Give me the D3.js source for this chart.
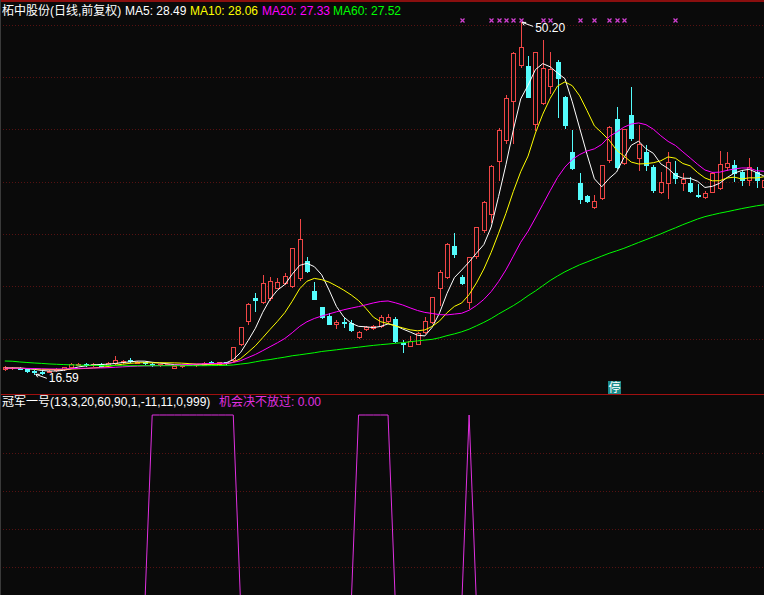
<!DOCTYPE html>
<html><head><meta charset="utf-8">
<script src="https://cdn.jsdelivr.net/npm/d3@7"></script>
<style>html,body{margin:0;padding:0;background:#0a0a0a;overflow:hidden}</style>
</head><body>
<svg id="c" width="764" height="595"></svg>
<script>
// ---------------- data ----------------
const open  = [17.10,17.20,17.20,17.05,16.95,16.85,16.85,17.00,17.05,17.30,17.50,17.55,17.45,17.55,17.45,17.65,17.75,17.98,17.70,17.75,
               17.60,17.45,17.50,17.20,17.35,17.50,17.45,17.50,17.80,17.60,17.75,17.95,19.50,21.71,23.91,23.52,23.91,24.86,25.34,25.02,
               25.76,27.41,24.58,22.99,22.16,21.39,21.61,21.46,20.18,20.92,20.98,21.20,21.71,21.87,19.61,19.32,19.48,20.66,21.61,24.80,
               25.85,28.84,25.91,23.52,27.89,30.37,31.90,36.99,38.97,42.72,46.13,46.04,40.50,42.53,44.13,46.45,43.05,37.85,34.89,33.62,
               32.54,33.40,37.06,40.95,36.80,41.36,37.22,37.85,36.42,34.03,34.89,35.85,34.83,34.89,33.72,33.50,34.03,34.36,36.36,36.58,
               35.94,35.15,35.94,34.45];
const high  = [17.40,17.30,17.25,17.10,17.00,16.95,17.00,17.15,17.30,17.65,17.70,17.65,17.70,17.65,17.75,18.30,18.00,18.10,17.85,17.80,
               17.65,17.60,17.60,17.40,17.50,17.55,17.60,17.75,17.85,17.80,17.80,19.20,21.10,23.40,24.33,26.07,25.91,25.76,26.29,28.62,
               31.42,27.82,25.43,22.99,22.42,21.78,21.94,21.78,20.70,21.20,21.30,22.25,22.32,22.03,19.87,20.25,20.66,22.09,24.00,26.55,
               29.10,30.06,26.07,27.77,30.70,33.15,36.55,40.09,43.27,47.35,50.20,46.99,47.40,48.52,47.40,46.61,43.20,39.92,35.85,33.72,
               33.72,36.60,40.30,42.14,40.00,44.06,40.40,38.49,36.58,35.94,37.85,36.99,35.79,35.47,34.77,34.10,35.90,37.95,37.85,37.06,
               36.10,37.22,36.42,35.30];
const low   = [17.00,17.10,17.05,16.80,16.59,16.65,16.80,16.95,17.00,17.25,17.45,17.40,17.40,17.35,17.40,17.60,17.70,17.75,17.65,17.55,
               17.40,17.40,17.45,17.15,17.30,17.45,17.40,17.45,17.65,17.55,17.60,17.90,19.40,21.39,22.67,23.37,23.70,24.80,25.20,24.90,
               25.60,26.39,23.78,21.94,21.37,20.98,21.14,20.75,20.10,20.85,20.90,21.14,21.61,19.70,18.75,19.30,19.45,20.50,21.46,23.21,
               25.80,27.82,25.20,22.89,27.67,30.20,31.17,35.15,38.65,38.65,45.94,43.05,39.92,42.45,43.43,41.19,40.10,36.17,32.98,33.00,
               32.50,33.30,36.90,36.27,36.70,38.97,36.10,36.10,34.03,33.94,33.40,34.90,34.19,34.00,33.55,33.45,34.00,34.30,36.10,35.03,
               34.67,34.67,34.51,34.40];
const close = [17.29,17.20,17.10,16.90,16.85,16.72,16.95,17.10,17.25,17.57,17.60,17.45,17.60,17.42,17.70,17.96,17.90,17.90,17.80,17.65,
               17.45,17.55,17.55,17.35,17.45,17.50,17.55,17.70,17.70,17.75,17.65,19.20,21.08,23.30,23.69,25.28,25.50,25.38,25.98,28.62,
               29.48,26.49,23.78,22.09,21.37,21.61,21.46,20.82,20.60,21.14,21.23,22.03,22.03,19.80,19.48,19.80,20.50,21.71,23.94,26.39,
               29.01,28.08,25.34,27.77,30.63,33.08,36.49,39.92,42.95,47.25,47.82,43.10,47.34,45.82,45.72,44.86,40.40,36.27,33.30,33.17,
               33.17,36.58,40.24,36.36,39.99,39.13,38.59,36.58,34.19,34.99,36.90,35.31,35.21,34.10,33.62,33.94,35.85,36.68,36.80,35.79,
               35.15,36.42,35.15,35.15];
// closes of the 19 sessions before the visible window (for MA warm-up)
const priorCloses = [17.30,17.25,17.20,17.15,17.20,17.25,17.20,17.10,17.05,17.10,17.15,17.20,17.25,17.20,17.15,17.10,17.15,17.20,17.15];
const ma60 = [17.86,17.84,17.77,17.72,17.67,17.63,17.58,17.55,17.52,17.49,17.47,17.45,17.44,17.43,17.42,17.42,17.41,17.41,17.41,17.41,
              17.41,17.41,17.41,17.41,17.41,17.41,17.41,17.41,17.42,17.43,17.44,17.48,17.57,17.65,17.78,17.91,18.00,18.12,18.23,18.36,
              18.45,18.55,18.65,18.77,18.85,18.93,19.02,19.10,19.18,19.27,19.35,19.42,19.48,19.55,19.61,19.70,19.78,19.86,19.93,20.08,
              20.28,20.45,20.65,20.90,21.22,21.55,21.92,22.35,22.75,23.15,23.60,24.10,24.55,25.05,25.55,25.98,26.38,26.72,27.05,27.32,
              27.60,27.88,28.15,28.38,28.62,28.90,29.18,29.45,29.72,30.00,30.30,30.58,30.88,31.15,31.42,31.65,31.82,31.98,32.12,32.27,
              32.42,32.55,32.68,32.78];
const signal = [0,0,0,0,0,0,0,0,0,0,0,0,0,0,0,0,0,0,0,0,
                100,100,100,100,100,100,100,100,100,100,100,100,0,0,0,0,0,0,0,0,
                0,0,0,0,0,0,0,0,100,100,100,100,100,0,0,0,0,0,0,0,
                0,0,0,100,0,0,0,0,0,0,0,0,0,0,0,0,0,0,0,0,
                0,0,0,0,0,0,0,0,0,0,0,0,0,0,0,0,0,0,0,0,
                0,0,0,0];
const markIdx = [62,66,67,68,69,70,73,74,78,80,82,83,84,91];
const stopIdx = 82;
const priceTicks = [20,25,30,35,40,45,50];
const subTicks = [20,40,60,80];
const title = "柘中股份(日线,前复权)";
const maLabels = [["MA5: 28.49","#ffffff",125],["MA10: 28.06","#ffff00",190],["MA20: 27.33","#ff00ff",262],["MA60: 27.52","#00ff00",333]];
const subTitle = "冠军一号(13,3,20,60,90,1,-11,11,0,999)";
const subValue = "机会决不放过: 0.00";

// ---------------- drawing ----------------
const N = close.length;
const svg = d3.select("#c");
const FONT = "'Liberation Sans','Noto Sans CJK SC',sans-serif";
svg.append("rect").attr("width",764).attr("height",595).attr("fill","#0a0a0a");

const x = d3.scaleLinear().domain([0, N-1]).range([4.8, 763.9]);
const y = d3.scaleLinear().domain([20, 50]).range([338.6, 24.5]);
const ys = d3.scaleLinear().domain([0, 100]).range([605, 415]);

// grid
const grid = svg.append("g");
grid.selectAll(".gm").data(priceTicks).join("line")
  .attr("x1",0).attr("x2",764)
  .attr("y1",d=>Math.round(y(d))+0.5).attr("y2",d=>Math.round(y(d))+0.5)
  .attr("stroke","#561212").attr("stroke-dasharray","1,2");
grid.selectAll(".gs").data(subTicks).join("line")
  .attr("x1",0).attr("x2",764)
  .attr("y1",d=>Math.round(ys(d))+0.5).attr("y2",d=>Math.round(ys(d))+0.5)
  .attr("stroke","#561212").attr("stroke-dasharray","1,2");

// borders
svg.append("line").attr("x1",0).attr("x2",764).attr("y1",1).attr("y2",1).attr("stroke","#8a0f0f").attr("stroke-width",2);
svg.append("line").attr("x1",0).attr("x2",764).attr("y1",394.5).attr("y2",394.5).attr("stroke","#a01010");
svg.append("line").attr("x1",0.5).attr("x2",0.5).attr("y1",0).attr("y2",595).attr("stroke","#3a3a3a");

// candles
const UP = "#f04646", DN = "#54fcfc";
const cg = svg.append("g");
d3.range(N).forEach(i => {
  const px = Math.round(x(i));
  const o = open[i], c = close[i];
  const up = c >= o;
  const col = up ? UP : DN;
  const yt = Math.round(y(Math.max(o,c))), yb = Math.round(y(Math.min(o,c)));
  const yh = Math.round(y(high[i])), yl = Math.round(y(low[i]));
  cg.append("line").attr("x1",px+0.5).attr("x2",px+0.5).attr("y1",yh).attr("y2",yl+1).attr("stroke",col);
  if (yb - yt < 1) {
    cg.append("line").attr("x1",px-2).attr("x2",px+3).attr("y1",yt+0.5).attr("y2",yt+0.5).attr("stroke",col);
  } else if (up) {
    cg.append("rect").attr("x",px-1.5).attr("y",yt+0.5).attr("width",4).attr("height",yb-yt)
      .attr("fill","#0a0a0a").attr("stroke",col);
  } else {
    cg.append("rect").attr("x",px-2).attr("y",yt).attr("width",5).attr("height",yb-yt+1).attr("fill",col);
  }
});

// moving averages
const full = priorCloses.concat(close);
const K = priorCloses.length;
function ma(n){ return d3.range(N).map(i => d3.mean(full.slice(K+i-n+1, K+i+1))); }
const line = d3.line().x((d,i)=>x(i)).y(d=>y(d));
[[ma(5),"#ffffff"],[ma(10),"#ffff00"],[ma(20),"#ff00ff"],[ma60,"#00ff00"]].forEach(([arr,col])=>{
  svg.append("path").datum(arr).attr("d",line).attr("fill","none").attr("stroke",col).attr("stroke-width",1);
});

// signal markers (top)
const mk = svg.append("g").attr("stroke","#d040d0").attr("stroke-width",1.2);
markIdx.forEach(i=>{
  const cx = Math.round(x(i))+0.5, cy = 20.5;
  mk.append("line").attr("x1",cx-2).attr("x2",cx+2).attr("y1",cy-2).attr("y2",cy+2);
  mk.append("line").attr("x1",cx-2).attr("x2",cx+2).attr("y1",cy+2).attr("y2",cy-2);
});

// high / low labels
function arrowLabel(i, val, dy){
  const ax = x(i)+1.5, ay = y(val);
  const g = svg.append("g").attr("stroke","#ffffff").attr("stroke-width",1);
  g.append("line").attr("x1",ax).attr("y1",ay).attr("x2",ax+11).attr("y2",ay+4);
  g.append("line").attr("x1",ax).attr("y1",ay).attr("x2",ax+4).attr("y2",ay);
  g.append("line").attr("x1",ax).attr("y1",ay).attr("x2",ax+2).attr("y2",ay+3);
  svg.append("text").attr("x",ax+13).attr("y",ay+dy).attr("fill","#ffffff")
    .attr("font-family",FONT).attr("font-size",12).text(val.toFixed(2));
}
const hi = d3.maxIndex(high), lo = d3.minIndex(low);
arrowLabel(hi, high[hi], 9.5);
arrowLabel(lo, low[lo], 7.5);

// 停 marker
const sx = Math.round(x(stopIdx))-1;
svg.append("rect").attr("x",sx).attr("y",381).attr("width",13).attr("height",13).attr("fill","#1c8c8c");
svg.append("text").attr("x",sx+0.5).attr("y",392).attr("fill","#ffffff").attr("font-family",FONT).attr("font-size",12).text("停");

// lower indicator
svg.append("path").datum(signal).attr("d", d3.line().x((d,i)=>x(i)).y(d=>ys(d)))
  .attr("fill","none").attr("stroke","#e030e0").attr("stroke-width",1);

// titles
svg.append("text").attr("x",2).attr("y",15).attr("fill","#ffffff").attr("font-family",FONT).attr("font-size",12).text(title);
maLabels.forEach(([t,c,px])=>{
  svg.append("text").attr("x",px).attr("y",15).attr("fill",c).attr("font-family",FONT).attr("font-size",12).text(t);
});
svg.append("text").attr("x",2).attr("y",406).attr("fill","#ffffff").attr("font-family",FONT).attr("font-size",12).text(subTitle);
svg.append("text").attr("x",219).attr("y",406).attr("fill","#e030e0").attr("font-family",FONT).attr("font-size",12).text(subValue);
</script>
</body></html>
